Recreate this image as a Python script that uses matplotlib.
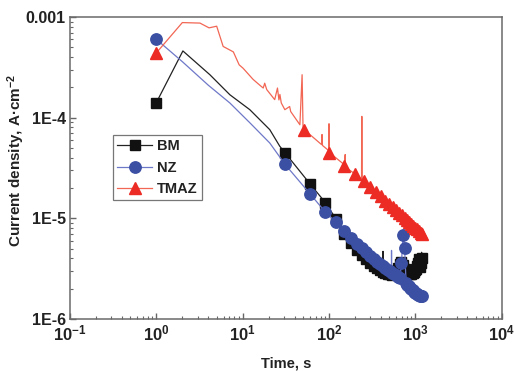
import numpy as np
import matplotlib
matplotlib.use('Agg')
import matplotlib.pyplot as plt
from matplotlib.lines import Line2D
from matplotlib.ticker import FixedLocator, FixedFormatter, LogLocator, NullFormatter

# marker points (one every 30 s for BM / NZ, every 50 s for TMAZ)
bm_t = [1, 31, 61, 91, 121, 151, 181, 211, 241, 271, 301, 331, 361, 391, 421, 451, 481,
        511, 541, 571, 601, 631, 661, 691, 721, 751, 781, 811, 841, 871, 901, 931, 961,
        991, 1021, 1051, 1081, 1111, 1141, 1171, 1201]
bm_i = [1.41e-4, 4.47e-5, 2.17e-5, 1.43e-5, 9.8e-6, 7.0e-6, 5.7e-6, 4.9e-6, 4.3e-6,
        3.9e-6, 3.6e-6, 3.35e-6, 3.2e-6, 3.05e-6, 2.95e-6, 2.85e-6, 2.8e-6, 2.78e-6,
        2.75e-6, 2.78e-6, 2.85e-6, 3.2e-6, 3.5e-6, 3.7e-6, 3.4e-6, 3.15e-6, 3.0e-6,
        2.9e-6, 2.85e-6, 2.8e-6, 2.8e-6, 2.85e-6, 2.95e-6, 3.05e-6, 3.15e-6, 3.35e-6,
        3.6e-6, 3.9e-6, 3.3e-6, 3.6e-6, 4.0e-6]
# extra line vertices (start-up transient and spikes)
bm_extra_t = [2.03, 4.17, 7.1, 12.1, 20.6, 26.9, 420, 422, 424, 1180, 1182, 1184]
bm_extra_i = [4.6e-4, 2.67e-4, 1.69e-4, 1.2e-4, 7.6e-5, 5.2e-5, 2.95e-6, 4.7e-6,
              2.95e-6, 3.7e-6, 4.6e-6, 3.7e-6]

nz_t = bm_t
nz_i = [6.0e-4, 3.43e-5, 1.73e-5, 1.15e-5, 9.1e-6, 7.5e-6, 6.4e-6, 5.6e-6, 5.05e-6,
        4.6e-6, 4.25e-6, 3.95e-6, 3.7e-6, 3.5e-6, 3.35e-6, 3.2e-6, 3.08e-6, 2.97e-6,
        2.88e-6, 2.8e-6, 2.72e-6, 2.62e-6, 2.55e-6, 3.6e-6, 6.9e-6, 5.1e-6, 2.3e-6,
        2.2e-6, 2.12e-6, 2.05e-6, 1.98e-6, 1.92e-6, 1.87e-6, 1.83e-6, 1.8e-6, 1.77e-6,
        1.74e-6, 1.72e-6, 1.7e-6, 1.69e-6, 1.68e-6]
nz_extra_t = [2, 4, 7.1, 12.1, 20.6, 528, 530, 532]
nz_extra_i = [3.6e-4, 2.1e-4, 1.4e-4, 8.9e-5, 5.6e-5, 2.93e-6, 4.8e-6, 2.92e-6]

tmaz_t = [1, 51, 101, 151, 201, 251, 301, 351, 401, 451, 501, 551, 601, 651, 701, 751,
          801, 851, 901, 951, 1001, 1051, 1101, 1151, 1201]
tmaz_i = [4.4e-4, 7.6e-5, 4.5e-5, 3.3e-5, 2.75e-5, 2.35e-5, 2.05e-5, 1.83e-5, 1.65e-5,
          1.5e-5, 1.38e-5, 1.29e-5, 1.2e-5, 1.13e-5, 1.07e-5, 1.01e-5, 9.6e-6, 9.2e-6,
          8.8e-6, 8.4e-6, 8.1e-6, 7.8e-6, 7.5e-6, 7.2e-6, 7.0e-6]
tmaz_extra_t = [2.0, 3.2, 4.08, 5.0, 5.94, 7.8, 9.1, 10.1, 13.2, 15.8, 17.3, 18, 19,
                23.5, 25.3, 26.3, 27, 28, 30.8, 35, 36, 46, 48.8, 50, 60, 82, 83, 84,
                99.5, 100, 148, 154, 155, 157, 238, 240, 242]
tmaz_extra_i = [8.8e-4, 8.7e-4, 7.8e-4, 8.1e-4, 5.1e-4, 4.5e-4, 3.35e-4, 3.1e-4, 2.4e-4,
                2.1e-4, 1.97e-4, 2.2e-4, 1.9e-4, 1.51e-4, 1.97e-4, 1.5e-4, 1.7e-4,
                1.4e-4, 1.2e-4, 1.29e-4, 1.15e-4, 8.5e-5, 2.67e-4, 8.2e-5, 6.8e-5,
                5.4e-5, 6.8e-5, 5.3e-5, 4.7e-5, 8.7e-5, 3.45e-5, 4.3e-5, 3.25e-5,
                3.2e-5, 2.45e-5, 1.03e-4, 2.42e-5]

x_tick_vals = [1e-1, 1e0, 1e1, 1e2, 1e3, 1e4]
x_tick_labels = [r'$10^{-1}$', r'$10^{0}$', r'$10^{1}$', r'$10^{2}$', r'$10^{3}$', r'$10^{4}$']
y_tick_vals = [1e-6, 1e-5, 1e-4, 1e-3]
y_tick_labels = ['1E-6', '1E-5', '1E-4', '0.001']

plt.rcParams['font.family'] = ['Liberation Sans', 'DejaVu Sans']
plt.rcParams['font.weight'] = 'bold'
plt.rcParams['mathtext.fontset'] = 'custom'
plt.rcParams['mathtext.bf'] = 'Liberation Sans:bold'
plt.rcParams['mathtext.rm'] = 'Liberation Sans:bold'
plt.rcParams['mathtext.default'] = 'bf'


def line_of(t, i, et, ei):
    tt = np.array(list(t) + list(et), float)
    ii = np.array(list(i) + list(ei), float)
    order = np.argsort(tt, kind='stable')
    return tt[order], ii[order]


series = [
    ('BM', bm_t, bm_i, bm_extra_t, bm_extra_i, '#222222', '#111111', 's', 6.8),
    ('NZ', nz_t, nz_i, nz_extra_t, nz_extra_i, '#6e78c8', '#3b4fa3', 'o', 8.2),
    ('TMAZ', tmaz_t, tmaz_i, tmaz_extra_t, tmaz_extra_i, '#f26654', '#ec2b24', '^', 8.6),
]

fig = plt.figure(figsize=(5.14, 3.71), dpi=100)
ax = fig.add_axes([0.1362, 0.1402, 0.8398, 0.814])

handles = []
for k, (name, t, i, et, ei, lc, mc, mk, ms) in enumerate(series):
    lt, li = line_of(t, i, et, ei)
    ax.plot(lt, li, color=lc, lw=0.9, zorder=2 + k)
    ax.plot(t, i, linestyle='none', marker=mk, ms=ms, mfc=mc, mec=mc, zorder=2 + k)
    handles.append(Line2D([], [], color=lc, lw=0.9, marker=mk, ms=ms, mfc=mc, mec=mc))

ax.set_xscale('log')
ax.set_yscale('log')
ax.set_xlim(1e-1, 1e4)
ax.set_ylim(1e-6, 1e-3)

ax.xaxis.set_major_locator(FixedLocator(x_tick_vals))
ax.xaxis.set_major_formatter(FixedFormatter(x_tick_labels))
ax.yaxis.set_major_locator(FixedLocator(y_tick_vals))
ax.yaxis.set_major_formatter(FixedFormatter(y_tick_labels))
ax.xaxis.set_minor_locator(LogLocator(base=10, subs=np.arange(2, 10), numticks=20))
ax.yaxis.set_minor_locator(LogLocator(base=10, subs=np.arange(2, 10), numticks=20))
ax.xaxis.set_minor_formatter(NullFormatter())
ax.yaxis.set_minor_formatter(NullFormatter())

ax.tick_params(which='both', direction='in', top=False, right=False, color='#666666',
               labelcolor='#222222')
ax.tick_params(axis='y', labelsize=11.5)
ax.tick_params(axis='x', labelsize=12)
ax.tick_params(which='major', length=4.5, width=1.0, pad=3)
ax.tick_params(which='minor', length=2.5, width=0.8)
for sp in ax.spines.values():
    sp.set_color('#6a6a6a')
    sp.set_linewidth(1.1)

ax.set_xlabel('Time, s', fontsize=10.5, fontweight='bold', color='#222222', labelpad=10)
ax.set_ylabel('Current density, A·cm$^{-2}$', fontsize=11, fontweight='bold',
              color='#222222')
ax.yaxis.set_label_coords(-0.1, 0.525)

leg = ax.legend(handles, ['BM', 'NZ', 'TMAZ'], loc='upper left',
                bbox_to_anchor=(0.0996, 0.609), borderaxespad=0, fancybox=False,
                edgecolor='#777777', framealpha=1, prop={'weight': 'bold', 'size': 10.5},
                handlelength=2.4, handletextpad=0.3, labelspacing=0.5,
                borderpad=0.3)
leg.get_frame().set_linewidth(0.9)
for txt in leg.get_texts():
    txt.set_color('#222222')

fig.savefig('out.png', dpi=100)
